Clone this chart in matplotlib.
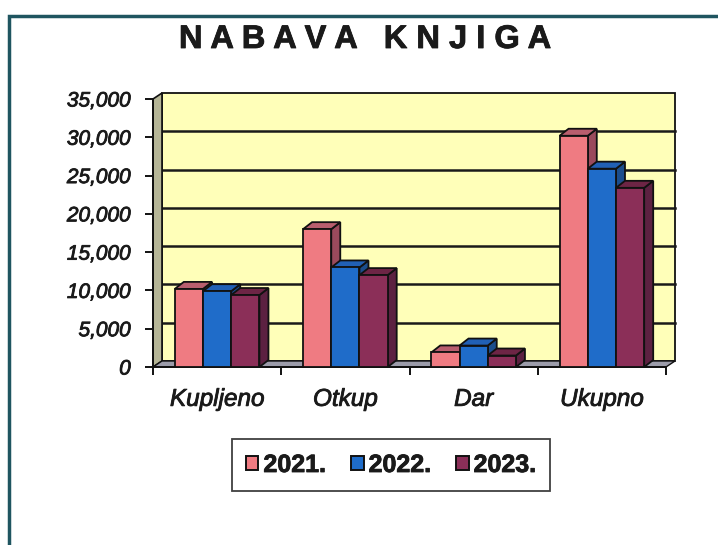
import matplotlib
matplotlib.use('Agg')
import matplotlib.pyplot as plt
import matplotlib.patheffects as pe
from matplotlib.patches import Polygon, Rectangle, Patch

# --- Data ---
categories = ['Kupljeno', 'Otkup', 'Dar', 'Ukupno']
years = ['2021.', '2022.', '2023.']
v2021 = [10200, 18000, 1900, 30200]
v2022 = [9900, 13000, 2800, 25900]
v2023 = [9400, 12000, 1500, 23400]
yticks = [0, 5000, 10000, 15000, 20000, 25000, 30000, 35000]

series = [v2021, v2022, v2023]
front_colors = ['#EF7B82', '#1F6CC9', '#8B2F58']
top_colors = ['#B95E6E', '#2160B5', '#6D2545']
side_colors = ['#9A4A5C', '#1B4D8C', '#5C2141']

plt.rcParams['font.family'] = ['Liberation Sans', 'DejaVu Sans']
heavy = [pe.withStroke(linewidth=0.6, foreground='#1a1a1a')]

W, H = 718, 545
fig = plt.figure(figsize=(W / 100, H / 100), dpi=100)
ax_l, ax_r, ax_b, ax_t = 153, 666, 367, 99
ax = fig.add_axes([ax_l / W, 1 - ax_b / H, (ax_r - ax_l) / W, (ax_b - ax_t) / H])
ax.set_xlim(0, 4)
ax.set_ylim(0, 35000)
ax.patch.set_visible(False)

# pixel -> data units for the fake 3D depth
px_x = (ax_r - ax_l) / 4
px_y = (ax_b - ax_t) / 35000
def off(dx, dy):
    return dx / px_x, dy / px_y

wdx, wdy = off(9, 6)   # back wall depth
bdx, bdy = off(9, 7)   # bar depth

# --- walls ---
ax.add_patch(Rectangle((wdx, wdy), 4, 35000, facecolor='#FFFFB9', edgecolor='#111111',
                       lw=1.3, clip_on=False, zorder=0))
for t in yticks[1:-1]:
    ax.plot([wdx, 4 + wdx], [t + wdy, t + wdy], color='#1a1a1a', lw=1.8, clip_on=False, zorder=1)
ax.add_patch(Polygon([(0, 0), (0, 35000), (wdx, 35000 + wdy), (wdx, wdy)], closed=True,
                     facecolor='#B5B596', edgecolor='#111111', lw=1.2, clip_on=False, zorder=1))
ax.add_patch(Polygon([(0, 0), (4, 0), (4 + wdx, wdy), (wdx, wdy)], closed=True,
                     facecolor='#9C9CAA', edgecolor='#111111', lw=1.0, clip_on=False, zorder=1))

# --- bars ---
bw = 0.22
for k, vals in enumerate(series):
    xs = [i + 0.5 + (k - 1) * bw for i in range(len(categories))]
    for x, v in zip(xs, vals):
        xl, xr = x - bw / 2, x + bw / 2
        side = [(xr, 0), (xr, v), (xr + bdx, v + bdy), (xr + bdx, bdy)]
        top = [(xl, v), (xr, v), (xr + bdx, v + bdy), (xl + bdx, v + bdy)]
        ax.add_patch(Polygon(side, closed=True, facecolor=side_colors[k], edgecolor='#111111',
                             lw=1.3, clip_on=False, zorder=3 + 2 * k))
        ax.add_patch(Polygon(top, closed=True, facecolor=top_colors[k], edgecolor='#111111',
                             lw=1.3, clip_on=False, zorder=3 + 2 * k))
    ax.bar(xs, vals, width=bw, color=front_colors[k], edgecolor='#111111', lw=1.3,
           zorder=4 + 2 * k, clip_on=False)

# --- axes ---
for s in ['top', 'right']:
    ax.spines[s].set_visible(False)
for s in ['left', 'bottom']:
    ax.spines[s].set_linewidth(1.4)
    ax.spines[s].set_color('#111111')
    ax.spines[s].set_zorder(2)

ax.set_yticks(yticks, labels=[f'{t:,}' for t in yticks])
ax.set_xticks([0, 1, 2, 3, 4], labels=[])
ax.set_xticks([0.5, 1.5, 2.5, 3.5], labels=categories, minor=True)
ax.tick_params(axis='y', length=6, width=1.4, pad=10, labelsize=15, color='#111111')
ax.tick_params(axis='x', which='major', length=6, width=1.4, color='#111111')
ax.tick_params(axis='x', which='minor', length=0, pad=15, labelsize=17.5)
for lab in ax.get_yticklabels() + ax.get_xticklabels(minor=True):
    lab.set_fontstyle('italic')
    lab.set_color('#1a1a1a')
    lab.set_path_effects(heavy)

# --- title, legend, frame ---
fig.text(365 / W, 1 - 39.5 / H, 'N A B A V A   K N J I G A', ha='center', va='center',
         fontsize=23.5, weight='bold', color='#1a1a1a', path_effects=heavy)

handles = [Patch(facecolor=c, edgecolor='#111111', lw=1.4) for c in front_colors]
leg = fig.legend(handles, years, loc='center', bbox_to_anchor=(391 / W, 1 - 465 / H), ncol=3,
                 frameon=True, fancybox=False, edgecolor='#111111',
                 prop={'weight': 'bold', 'size': 18}, handlelength=0.5, handleheight=0.5,
                 handletextpad=0.2, columnspacing=1.0, borderpad=0.55)
leg.get_frame().set_linewidth(1.3)
for t in leg.get_texts():
    t.set_color('#1a1a1a')
    t.set_path_effects(heavy)

fig.add_artist(Rectangle((9 / W, -0.1), 1.2, 1.1 - 16 / H, transform=fig.transFigure,
                         fill=False, edgecolor='#1F5560', lw=2.5))

fig.savefig('out.png', dpi=100)
